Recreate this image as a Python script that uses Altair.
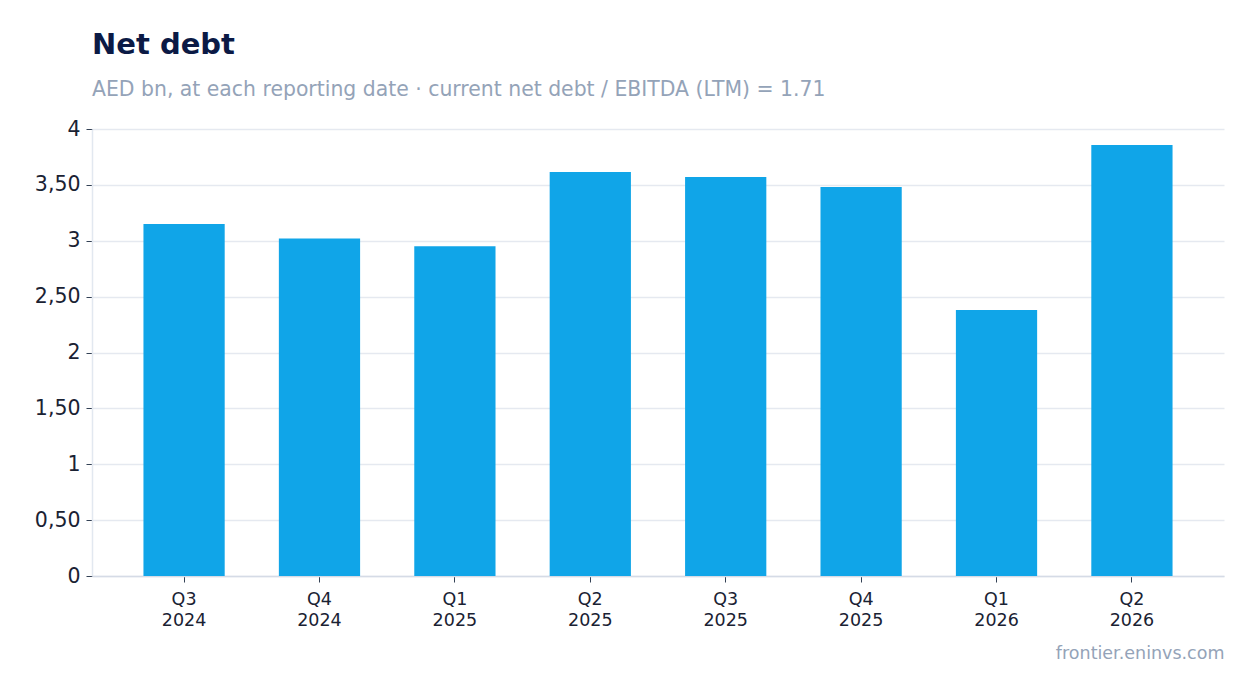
import altair as alt
import pandas as pd

quarters = ["Q3 2024", "Q4 2024", "Q1 2025", "Q2 2025", "Q3 2025", "Q4 2025", "Q1 2026", "Q2 2026"]
net_debt = [3.15, 3.02, 2.95, 3.615, 3.57, 3.48, 2.38, 3.857]
y_ticks = [0, 0.5, 1, 1.5, 2, 2.5, 3, 3.5, 4]

df = pd.DataFrame({"quarter": quarters, "net_debt": net_debt})

FONT = "DejaVu Sans"

chart = alt.Chart(df).mark_bar(color="#10a5e8").encode(
    x=alt.X(
        "quarter:N",
        sort=quarters,
        scale=alt.Scale(paddingInner=0.4, paddingOuter=0.38),
        axis=alt.Axis(
            title="frontier.eninvs.com",
            titleAnchor="end",
            titleAlign="right",
            titleFontSize=17.5,
            titleFontWeight="normal",
            titleColor="#94a3b8",
            titleFont=FONT,
            titlePadding=16,
            labelAngle=0,
            labelExpr="split(datum.label, ' ')",
            labelFontSize=17.5,
            labelLineHeight=21,
            labelColor="#1a2233",
            labelFont=FONT,
            labelPadding=8,
            tickColor="#334155",
            tickSize=6,
            domainColor="#d5dbe6",
            domainWidth=1.5,
            grid=False,
        ),
    ),
    y=alt.Y(
        "net_debt:Q",
        scale=alt.Scale(domain=[0, 4]),
        axis=alt.Axis(
            title="",
            values=y_ticks,
            labelExpr="datum.value == floor(datum.value) ? format(datum.value, 'd') : replace(format(datum.value, '.2f'), '.', ',')",
            labelFontSize=20.5,
            labelColor="#1a2233",
            labelFont=FONT,
            labelPadding=6,
            tickColor="#334155",
            tickSize=6,
            domainColor="#e2e8f0",
            domainWidth=1.5,
            gridColor="#e5e9f0",
            gridWidth=1.5,
        ),
    ),
).properties(
    width=1132,
    height=447,
    autosize="none",
    padding={"left": 84, "top": 121, "right": 22, "bottom": 100},
    title=alt.TitleParams(
        text="Net debt",
        subtitle="AED bn, at each reporting date · current net debt / EBITDA (LTM) = 1.71",
        anchor="start",
        frame="group",
        font=FONT,
        fontSize=29,
        fontWeight="bold",
        color="#0b1a45",
        subtitleFont=FONT,
        subtitleFontSize=20.4,
        subtitleColor="#94a3b8",
        subtitlePadding=20,
        offset=19,
    ),
).configure_view(strokeWidth=0)

chart.save("out.html", embed_options={"renderer": "svg", "actions": False})
